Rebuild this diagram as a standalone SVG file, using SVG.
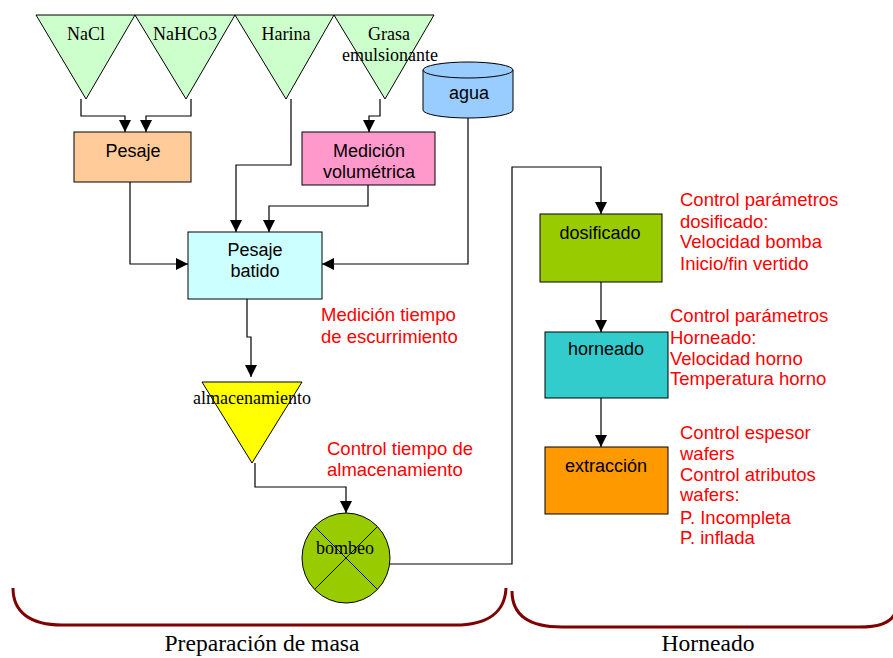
<svg xmlns="http://www.w3.org/2000/svg" width="893" height="658" viewBox="0 0 893 658">
<style>
.s{font-family:"Liberation Serif","Times New Roman",serif;font-size:18px;fill:#000;text-anchor:middle}
.a{font-family:"Liberation Sans",Arial,sans-serif;font-size:18px;fill:#000;text-anchor:middle}
.r{font-family:"Liberation Sans",Arial,sans-serif;font-size:18.5px;fill:#ff0000}
.b{font-family:"Liberation Serif","Times New Roman",serif;font-size:23px;fill:#000;text-anchor:middle}
.o{stroke:#000;stroke-width:1}
.c{fill:none;stroke:#000;stroke-width:1.2;marker-end:url(#ar)}
.br{fill:none;stroke:#7f0000;stroke-width:3}
</style>
<defs>
<marker id="ar" viewBox="0 0 12 12" refX="12" refY="6" markerWidth="12" markerHeight="12" markerUnits="userSpaceOnUse" orient="auto">
<path d="M0,0 L12,6 L0,12 Z" fill="#000"/>
</marker>
</defs>
<rect width="893" height="658" fill="#fff"/>
<g id="nacl"><polygon class="o" points="36,15 135,15 86,99" fill="#ccffcc"/><text class="s" x="86" y="40">NaCl</text></g>
<g id="nahco3"><polygon class="o" points="135,15 235,15 186,99" fill="#ccffcc"/><text class="s" x="185" y="40">NaHCo3</text></g>
<g id="harina"><polygon class="o" points="235,15 334,15 286,99" fill="#ccffcc"/><text class="s" x="286" y="40">Harina</text></g>
<g id="grasa"><polygon class="o" points="334,15 434,15 385,99" fill="#ccffcc"/><text class="s" x="389" y="40">Grasa</text><text class="s" x="390" y="61">emulsionante</text></g>
<g id="agua"><path class="o" d="M423,70 L423,110 A45,8 0 0 0 513,110 L513,70" fill="#99ccff"/><ellipse class="o" cx="468" cy="70" rx="45" ry="8" fill="#99ccff"/><text class="a" x="469" y="99">agua</text></g>
<g id="pesaje"><rect class="o" x="74" y="132" width="117" height="50" fill="#ffcc99"/><text class="a" x="133" y="157">Pesaje</text></g>
<g id="medicion"><rect class="o" x="302" y="132" width="133" height="53" fill="#ff99cc"/><text class="a" x="369" y="157">Medición</text><text class="a" x="369" y="178">volumétrica</text></g>
<g id="pesajebatido"><rect class="o" x="188" y="232" width="134" height="67" fill="#ccffff"/><text class="a" x="255" y="256">Pesaje</text><text class="a" x="255" y="277">batido</text></g>
<g id="almacenamiento"><polygon class="o" points="202,382 302,382 252,463" fill="#ffff00"/><text class="s" x="252" y="404">almacenamiento</text></g>
<g id="bombeo"><ellipse class="o" cx="346" cy="558" rx="44" ry="45" fill="#99cc00"/><line class="o" x1="315" y1="527" x2="377" y2="589"/><line class="o" x1="377" y1="527" x2="315" y2="589"/><text class="s" x="345" y="554">bombeo</text></g>
<g id="dosificado"><rect class="o" x="540" y="214" width="122" height="68" fill="#99cc00"/><text class="a" x="600" y="239">dosificado</text></g>
<g id="horneado"><rect class="o" x="545" y="332" width="123" height="66" fill="#33cccc"/><text class="a" x="606" y="355">horneado</text></g>
<g id="extraccion"><rect class="o" x="545" y="447" width="123" height="67" fill="#ff9900"/><text class="a" x="606" y="472">extracción</text></g>
<g id="connectors">
<path class="c" d="M81,99 V116 H125 V132"/>
<path class="c" d="M191,99 V116 H146 V132"/>
<path class="c" d="M291,99 V165 H236 V232"/>
<path class="c" d="M380,99 V116 H369 V132"/>
<path class="c" d="M368,185 V206 H269 V232"/>
<path class="c" d="M130,182 V264 H188"/>
<path class="c" d="M468,118 V264 H322"/>
<path class="c" d="M247,299 V337 H251 V377"/>
<path class="c" d="M255,463 V487 H346 V513"/>
<path class="c" d="M390,564 H512 V167 H601 V214"/>
<path class="c" d="M601,282 V332"/>
<path class="c" d="M601,398 V447"/>
</g>
<g id="notes">
<text class="r" x="321" y="321">Medición tiempo</text>
<text class="r" x="321" y="343">de escurrimiento</text>
<text class="r" x="327" y="455">Control tiempo de</text>
<text class="r" x="327" y="476">almacenamiento</text>
<text class="r" x="680" y="206">Control parámetros</text>
<text class="r" x="680" y="228">dosificado:</text>
<text class="r" x="680" y="248">Velocidad bomba</text>
<text class="r" x="680" y="270">Inicio/fin vertido</text>
<text class="r" x="670" y="322">Control parámetros</text>
<text class="r" x="670" y="344">Horneado:</text>
<text class="r" x="670" y="365">Velocidad horno</text>
<text class="r" x="670" y="385">Temperatura horno</text>
<text class="r" x="680" y="439">Control espesor</text>
<text class="r" x="680" y="460">wafers</text>
<text class="r" x="680" y="481">Control atributos</text>
<text class="r" x="680" y="501">wafers:</text>
<text class="r" x="680" y="524">P. Incompleta</text>
<text class="r" x="680" y="544">P. inflada</text>
</g>
<g id="braces">
<path class="br" d="M13,588 C13,612 30,625 62,625 L455,625 C488,625 505,612 506,588"/>
<path class="br" d="M512,591 C512,615 528,627 562,627 L860,627 C880,627 890,622 894,615"/>
<text class="b" x="262" y="651" textLength="195" lengthAdjust="spacingAndGlyphs">Preparación de masa</text>
<text class="b" x="708" y="651" textLength="93" lengthAdjust="spacingAndGlyphs">Horneado</text>
</g>
</svg>
